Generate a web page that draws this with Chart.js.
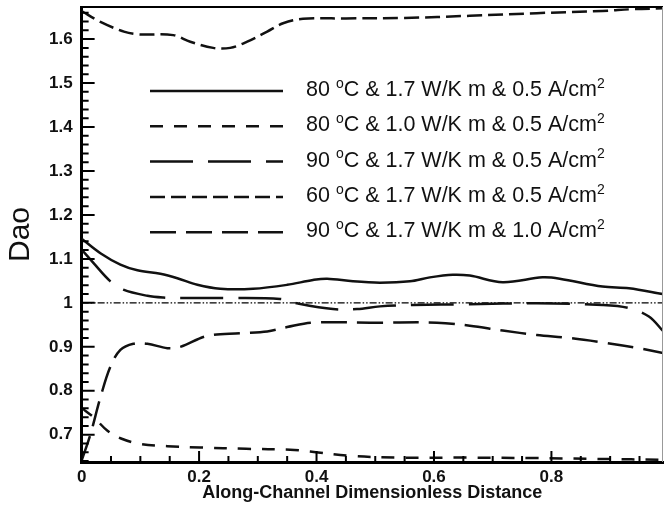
<!DOCTYPE html>
<html>
<head>
<meta charset="utf-8">
<script src="https://cdn.jsdelivr.net/npm/chart.js@4"></script>
<style>
  html, body { margin: 0; padding: 0; background: #fff; overflow: hidden; }
  #wrap { width: 664px; height: 507px; }
</style>
</head>
<body>
<div id="wrap"><canvas id="chart_div" width="664" height="507"></canvas></div>
<script>
// legend labels (ᵒ and ² get drawn as superscripts)
const labels = [
  '80 ᵒC & 1.7 W/K m & 0.5 A/cm²',
  '80 ᵒC & 1.0 W/K m & 0.5 A/cm²',
  '90 ᵒC & 1.7 W/K m & 0.5 A/cm²',
  '60 ᵒC & 1.7 W/K m & 0.5 A/cm²',
  '90 ᵒC & 1.7 W/K m & 1.0 A/cm²'
];
const xTicks = [0, 0.2, 0.4, 0.6, 0.8, 1];
const yTicks = [0.7, 0.8, 0.9, 1, 1.1, 1.2, 1.3, 1.4, 1.5, 1.6];

// 80 C, 1.7 W/K m, 0.5 A/cm2 (solid)
const x1 = [0, 0.032, 0.066, 0.095, 0.134, 0.163, 0.197, 0.236, 0.292, 0.35, 0.394, 0.418, 0.462, 0.508, 0.559, 0.593, 0.632, 0.661, 0.717, 0.785, 0.814, 0.887, 0.932, 0.99];
const y1 = [1.146, 1.113, 1.087, 1.074, 1.066, 1.056, 1.041, 1.032, 1.032, 1.041, 1.052, 1.055, 1.049, 1.046, 1.049, 1.058, 1.064, 1.062, 1.047, 1.058, 1.055, 1.037, 1.033, 1.02];
// 80 C, 1.0 W/K m, 0.5 A/cm2
const x2 = [0, 0.021, 0.044, 0.066, 0.100, 0.146, 0.202, 0.28, 0.355, 0.389, 0.457, 0.542, 0.656, 0.768, 0.882, 0.99];
const y2 = [0.761, 0.739, 0.709, 0.692, 0.679, 0.674, 0.671, 0.668, 0.666, 0.662, 0.652, 0.648, 0.648, 0.647, 0.645, 0.643];
// 90 C, 1.7 W/K m, 0.5 A/cm2
const x3 = [0, 0.02, 0.049, 0.071, 0.112, 0.139, 0.168, 0.241, 0.338, 0.367, 0.428, 0.469, 0.508, 0.564, 0.661, 0.775, 0.887, 0.932, 0.966, 0.99];
const y3 = [1.121, 1.091, 1.049, 1.030, 1.016, 1.012, 1.011, 1.011, 1.009, 0.999, 0.986, 0.986, 0.992, 0.995, 0.997, 0.999, 0.995, 0.988, 0.969, 0.936];
// 60 C, 1.7 W/K m, 0.5 A/cm2
const x4 = [0, 0.032, 0.072, 0.095, 0.156, 0.185, 0.224, 0.253, 0.282, 0.316, 0.343, 0.377, 0.45, 0.55, 0.661, 0.775, 0.887, 0.938, 0.99];
const y4 = [1.664, 1.639, 1.617, 1.611, 1.609, 1.594, 1.580, 1.580, 1.594, 1.617, 1.636, 1.646, 1.647, 1.648, 1.653, 1.659, 1.664, 1.668, 1.670];
// 90 C, 1.7 W/K m, 1.0 A/cm2
const x5 = [0, 0.015, 0.032, 0.049, 0.066, 0.088, 0.112, 0.146, 0.168, 0.214, 0.270, 0.316, 0.35, 0.394, 0.508, 0.605, 0.661, 0.717, 0.775, 0.831, 0.887, 0.944, 0.99];
const y5 = [0.641, 0.701, 0.785, 0.855, 0.893, 0.907, 0.907, 0.897, 0.900, 0.925, 0.931, 0.935, 0.945, 0.955, 0.955, 0.955, 0.948, 0.937, 0.927, 0.920, 0.910, 0.898, 0.886];
// reference line Dao = 1
const refX = [0, 0.99];
const refY = [1, 1];

const FONT = '"Liberation Sans", Arial, sans-serif';
const pts = (xs, ys) => xs.map((x, i) => ({ x: x, y: ys[i] }));
const line = (label, xs, ys, dash) => ({
  label: label, data: pts(xs, ys), borderColor: '#111', borderWidth: 2.5,
  borderDash: dash, pointRadius: 0, tension: 0.35, fill: false
});

// draw text, turning ᵒ and ² into small raised glyphs
function drawRich(ctx, text, x, y) {
  let cx = x;
  for (const ch of text) {
    if (ch === 'ᵒ' || ch === '²') {
      ctx.font = '14px ' + FONT;
      const c = ch === 'ᵒ' ? 'o' : '2';
      ctx.fillText(c, cx, y - 6);
      cx += ctx.measureText(c).width;
    } else {
      ctx.font = '21.5px ' + FONT;
      ctx.fillText(ch, cx, y);
      cx += ctx.measureText(ch).width;
    }
  }
}

const decor = {
  id: 'decor',
  afterDraw(chart) {
    const ctx = chart.ctx;
    const a = chart.chartArea;
    const xs = chart.scales.x, ys = chart.scales.y;
    ctx.save();
    // frame top / right
    ctx.strokeStyle = '#000';
    ctx.lineWidth = 2;
    ctx.beginPath(); ctx.moveTo(a.left, a.top); ctx.lineTo(a.right, a.top); ctx.stroke();
    ctx.strokeStyle = '#999';
    ctx.lineWidth = 1;
    ctx.beginPath(); ctx.moveTo(a.right - 0.5, a.top); ctx.lineTo(a.right - 0.5, a.bottom); ctx.stroke();
    // inward ticks
    ctx.strokeStyle = '#000';
    ctx.lineWidth = 2;
    ctx.beginPath();
    for (let i = 0; i <= 20; i++) {
      const v = i * 0.05;
      if (v > xs.max) break;
      const px = xs.getPixelForValue(v);
      const len = i % 4 === 0 ? 11 : 6;
      ctx.moveTo(px, a.bottom); ctx.lineTo(px, a.bottom - len);
    }
    for (let i = 32; i <= 83; i++) {
      const v = i * 0.02;
      if (v < ys.min || v > ys.max) continue;
      const py = ys.getPixelForValue(v);
      const len = i % 5 === 0 ? 13 : 7;
      ctx.moveTo(a.left, py); ctx.lineTo(a.left + len, py);
    }
    ctx.stroke();
    // last x label sits just past the clipped edge
    ctx.fillStyle = '#111';
    ctx.font = 'bold 17px ' + FONT;
    ctx.textAlign = 'center';
    ctx.textBaseline = 'middle';
    xTicks.filter(v => v > xs.max).forEach(v => {
      ctx.fillText(String(v), xs.getPixelForValue(v), a.bottom + 14);
    });
    // legend
    ctx.textAlign = 'left';
    for (let i = 0; i < labels.length; i++) {
      const ds = chart.data.datasets[i];
      const y = 91 + i * 35.3;
      ctx.strokeStyle = ds.borderColor;
      ctx.lineWidth = ds.borderWidth;
      ctx.setLineDash(ds.borderDash);
      ctx.beginPath(); ctx.moveTo(150, y); ctx.lineTo(283, y); ctx.stroke();
      ctx.setLineDash([]);
      ctx.fillStyle = '#111';
      drawRich(ctx, labels[i], 306, y - 1);
    }
    ctx.restore();
  }
};

const ctx = document.getElementById('chart_div');
new Chart(ctx, {
  type: 'line',
  data: {
    datasets: [
      line(labels[0], x1, y1, []),
      line(labels[1], x2, y2, [13, 11]),
      line(labels[2], x3, y3, [43, 15]),
      line(labels[3], x4, y4, [15, 6]),
      line(labels[4], x5, y5, [26, 10]),
      {
        label: 'ref', data: pts(refX, refY), borderColor: '#000', borderWidth: 1.2,
        borderDash: [7, 2, 1.5, 2, 1.5, 2], pointRadius: 0, tension: 0, fill: false
      }
    ]
  },
  options: {
    responsive: false,
    animation: false,
    layout: { padding: { left: 6, right: 1, top: 7, bottom: 5 } },
    plugins: { legend: { display: false }, tooltip: { enabled: false } },
    scales: {
      x: {
        type: 'linear', min: 0, max: 0.99,
        afterBuildTicks: s => { s.ticks = xTicks.filter(v => v <= s.max).map(v => ({ value: v })); },
        afterFit: s => { s.paddingLeft = 0; s.paddingRight = 0; },
        grid: { display: false, drawTicks: false },
        border: { display: true, width: 3, color: '#000' },
        ticks: {
          padding: 6.5, color: '#111', maxRotation: 0,
          font: { family: FONT, size: 17, weight: 'bold', lineHeight: 1 },
          callback: v => String(+(+v).toFixed(2))
        },
        title: {
          display: true, text: 'Along-Channel Dimensionless Distance', color: '#111',
          font: { family: FONT, size: 18, weight: 'bold', lineHeight: 1 },
          padding: { top: -8, bottom: 0 }
        }
      },
      y: {
        type: 'linear', min: 0.638, max: 1.673,
        afterBuildTicks: s => { s.ticks = yTicks.map(v => ({ value: v })); },
        afterFit: s => { s.paddingTop = 0; s.paddingBottom = 0; },
        grid: { display: false, drawTicks: false },
        border: { display: true, width: 3, color: '#000' },
        ticks: {
          padding: 9, color: '#111',
          font: { family: FONT, size: 17, weight: 'bold', lineHeight: 1 },
          callback: v => String(+(+v).toFixed(2))
        },
        title: {
          display: true, text: 'Dao', color: '#111',
          font: { family: FONT, size: 30, lineHeight: 1 },
          padding: { top: 0, bottom: 4 }
        }
      }
    }
  },
  plugins: [decor]
});
</script>
</body>
</html>
